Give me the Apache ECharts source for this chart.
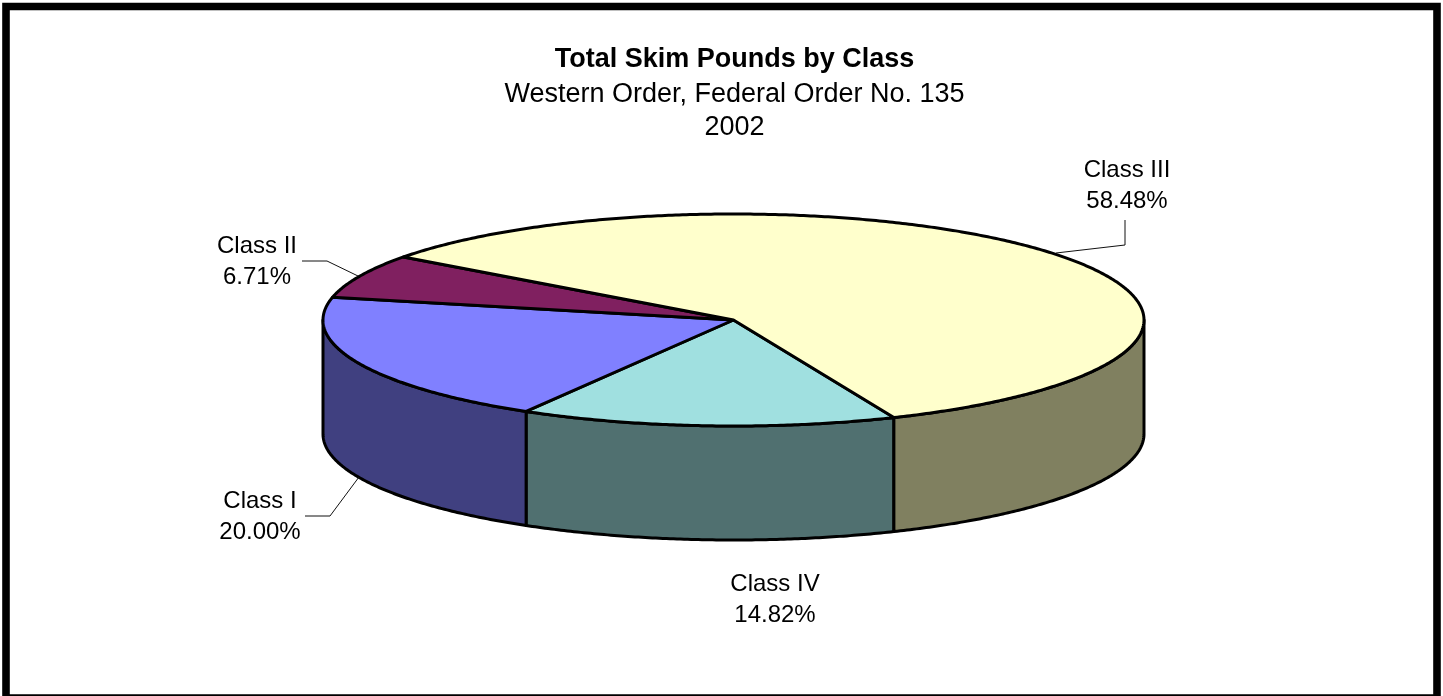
<!DOCTYPE html>
<html>
<head>
<meta charset="utf-8">
<style>html,body{margin:0;padding:0;background:#fff;overflow:hidden}#c{width:1443px;height:696px}</style>
<script src="https://cdn.jsdelivr.net/npm/echarts@6/dist/echarts.min.js"></script>
</head>
<body>
<div id="c"></div>
<script>
// Data, clockwise from the Class III / Class IV edge
var categories = ['Class IV', 'Class I', 'Class II', 'Class III'];
var shares = [14.82, 20.00, 6.71, 58.48];
var titleLines = ['Total Skim Pounds by Class', 'Western Order, Federal Order No. 135', '2002'];

// Styling and layout
var topColors = ['#A0E0E0', '#8080FF', '#802060', '#FFFFCC'];
var sideColors = ['#507070', '#404080', '#802060', '#808060'];
var pie = {cx: 733.5, cy: 320, rx: 410.5, ry: 106, depth: 114, startDeg: 67};
var labelCenters = [[775, 600], [260, 517], [257, 262], [1127, 186]];
var leaders = [
  null,
  [[305, 516], [330, 516], [359, 477]],
  [[302, 261], [327, 261], [358, 276]],
  [[1125, 220], [1125, 245], [1056, 253]]
];

var FONT = '"Liberation Sans", Arial, sans-serif';
var total = shares.reduce(function (a, b) { return a + b; }, 0);

function pt(deg, dy) {
  var r = deg * Math.PI / 180;
  return [pie.cx + pie.rx * Math.cos(r), pie.cy + pie.ry * Math.sin(r) + (dy || 0)];
}
function arc(a, b, dy) {
  var out = [], n = Math.max(2, Math.ceil(Math.abs(b - a) * 2));
  for (var i = 0; i <= n; i++) out.push(pt(a + (b - a) * i / n, dy));
  return out;
}
function sideFaces(a, b, color) {
  var faces = [];
  [[0, 180], [360, 540]].forEach(function (w) {
    var s = Math.max(a, w[0]), e = Math.min(b, w[1]);
    if (e > s) {
      faces.push({
        type: 'polygon',
        shape: {points: arc(s, e, 0).concat(arc(e, s, pie.depth))},
        style: {fill: color, stroke: '#000', lineWidth: 3, lineJoin: 'round'}
      });
    }
  });
  return faces;
}

function renderSlice(params, api) {
  var i = params.dataIndex;
  var before = 0;
  for (var k = 0; k < i; k++) before += shares[k];
  var a = pie.startDeg + before / total * 360;
  var b = a + api.value(0) / total * 360;
  var children = sideFaces(a, b, sideColors[i]);
  children.push({
    type: 'polygon',
    shape: {points: [[pie.cx, pie.cy]].concat(arc(a, b, 0))},
    style: {fill: topColors[i], stroke: '#000', lineWidth: 3, lineJoin: 'round'}
  });
  if (leaders[i]) {
    children.push({
      type: 'polyline',
      shape: {points: leaders[i]},
      style: {fill: null, stroke: '#111', lineWidth: 1}
    });
  }
  children.push({
    type: 'text',
    style: {
      x: labelCenters[i][0], y: labelCenters[i][1],
      text: categories[i] + '\n' + api.value(0).toFixed(2) + '%',
      align: 'center', verticalAlign: 'middle',
      font: '24px ' + FONT, lineHeight: 30.5, fill: '#000'
    }
  });
  return {type: 'group', children: children};
}

var chart = echarts.init(document.getElementById('c'), null, {renderer: 'canvas'});
chart.setOption({
  animation: false,
  backgroundColor: '#fff',
  title: [
    {text: titleLines[0], left: 729.5, top: 41, textAlign: 'center',
     textStyle: {fontFamily: FONT, fontWeight: 'bold', fontSize: 27, color: '#000'}},
    {text: titleLines[1], left: 729.5, top: 76, textAlign: 'center',
     textStyle: {fontFamily: FONT, fontWeight: 'normal', fontSize: 27, color: '#000'}},
    {text: titleLines[2], left: 729.5, top: 109, textAlign: 'center',
     textStyle: {fontFamily: FONT, fontWeight: 'normal', fontSize: 27, color: '#000'}}
  ],
  graphic: [{
    type: 'rect', silent: true, z: 10,
    shape: {x: 6, y: 6.5, width: 1431, height: 691.5},
    style: {fill: null, stroke: '#000', lineWidth: 7.6}
  }],
  series: [{
    type: 'custom',
    coordinateSystem: 'none',
    clip: false,
    silent: true,
    data: shares.map(function (v, i) { return {name: categories[i], value: [v]}; }),
    renderItem: renderSlice
  }]
});
</script>
</body>
</html>
